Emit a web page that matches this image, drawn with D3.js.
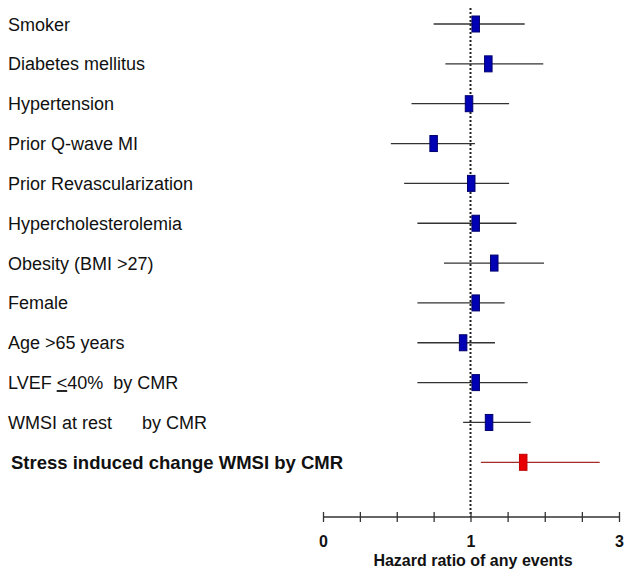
<!DOCTYPE html>
<html>
<head>
<meta charset="utf-8">
<script src="https://cdn.jsdelivr.net/npm/d3@7"></script>
<style>
  html, body { margin: 0; padding: 0; background: #fff; }
  svg { display: block; }
</style>
</head>
<body>
<svg id="chart" width="629" height="577"></svg>
<script>
// ---- data ----
const categories = [
  "Smoker",
  "Diabetes mellitus",
  "Hypertension",
  "Prior Q-wave MI",
  "Prior Revascularization",
  "Hypercholesterolemia",
  "Obesity (BMI >27)",
  "Female",
  "Age >65 years",
  "LVEF ≤40% by CMR",
  "WMSI at rest      by CMR",
  "Stress induced change WMSI by CMR"
];
const estimates = [1.07, 1.24, 0.99, 0.75, 1.01, 1.07, 1.32, 1.07, 0.95, 1.07, 1.25, 1.71];
const lower     = [0.75, 0.83, 0.60, 0.46, 0.55, 0.64, 0.82, 0.64, 0.64, 0.64, 0.95, 1.14];
const upper     = [1.73, 1.98, 1.52, 1.06, 1.52, 1.62, 1.99, 1.46, 1.33, 1.77, 1.81, 2.74];
const highlight = [false, false, false, false, false, false, false, false, false, false, false, true];
const tickValues = [0, 0.25, 0.5, 0.75, 1, 1.5, 2, 2.5, 3];
const tickLabels = ["0", "", "", "", "1", "", "", "", "3"];
const axisTitle = "Hazard ratio of any events";

// ---- scales ----
const svg = d3.select("#chart");
const x = d3.scaleLinear().domain([0, 1, 3]).range([323, 470.5, 619]);
const y = d3.scalePoint().domain(d3.range(categories.length)).range([24, 462.3]);
const axisY = 517;

const font = "'Liberation Sans', Arial, Helvetica, sans-serif";

// reference line at 1
svg.append("line")
  .attr("x1", x(1)).attr("x2", x(1))
  .attr("y1", 8).attr("y2", axisY)
  .attr("stroke", "#222")
  .attr("stroke-width", 2)
  .attr("stroke-dasharray", "2,2");

// labels
const labels = svg.append("g").selectAll("text")
  .data(categories)
  .join("text")
  .attr("x", (d, i) => highlight[i] ? 11 : 8)
  .attr("y", (d, i) => y(i) + 6.5)
  .attr("font-family", font)
  .attr("font-size", (d, i) => highlight[i] ? 18.5 : 18)
  .attr("font-weight", (d, i) => highlight[i] ? "bold" : "normal")
  .attr("fill", "#111")
  .style("white-space", "pre");

labels.each(function(d) {
  const t = d3.select(this);
  if (d.includes("≤")) {
    const [a, b] = d.split("≤");
    t.append("tspan").text(a);
    t.append("tspan").text("<").style("text-decoration", "underline");
    t.append("tspan").text(b.replace("% ", "%  "));
  } else {
    t.text(d);
  }
});

// CI lines and point boxes
const rows = svg.append("g").selectAll("g")
  .data(categories.map((c, i) => i))
  .join("g");

rows.append("line")
  .attr("x1", i => x(lower[i]))
  .attr("x2", i => x(upper[i]))
  .attr("y1", i => y(i))
  .attr("y2", i => y(i))
  .attr("stroke", i => highlight[i] ? "#a52a2a" : "#333")
  .attr("stroke-width", 1.3);

rows.append("rect")
  .attr("x", i => x(estimates[i]) - 3.75)
  .attr("y", i => y(i) - 8)
  .attr("width", 7.5)
  .attr("height", 16)
  .attr("fill", i => highlight[i] ? "#e80000" : "#0000b4")
  .attr("stroke", i => highlight[i] ? "#c00000" : "#00006a")
  .attr("stroke-width", 1);

// axis
const axis = d3.axisBottom(x)
  .tickValues(tickValues)
  .tickSize(5)
  .tickFormat((d, i) => tickLabels[i]);

const gAxis = svg.append("g")
  .attr("transform", `translate(0,${axisY})`)
  .call(axis);

gAxis.select(".domain")
  .attr("d", `M${x(0)},0H${x(3)}`)
  .attr("stroke", "#333")
  .attr("stroke-width", 1.3);
gAxis.selectAll(".tick line")
  .attr("y1", -5).attr("y2", 5)
  .attr("stroke", "#333")
  .attr("stroke-width", 1.3);
gAxis.selectAll(".tick text")
  .attr("y", 30).attr("dy", 0)
  .attr("font-family", font)
  .attr("font-size", 16)
  .attr("font-weight", "bold")
  .attr("fill", "#111");

svg.append("text")
  .attr("x", 473)
  .attr("y", 566)
  .attr("text-anchor", "middle")
  .attr("font-family", font)
  .attr("font-size", 16)
  .attr("font-weight", "bold")
  .attr("fill", "#111")
  .text(axisTitle);
</script>
</body>
</html>
